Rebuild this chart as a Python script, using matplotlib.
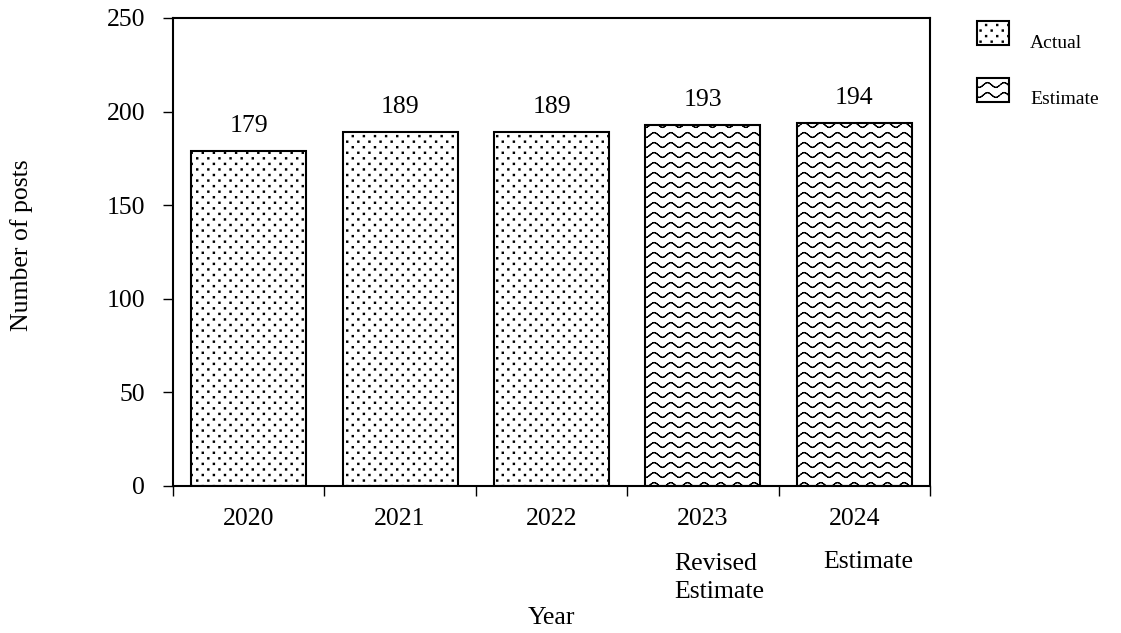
import warnings
warnings.filterwarnings("ignore")
import numpy as np
import matplotlib
matplotlib.use("Agg")
import matplotlib.pyplot as plt
import matplotlib.hatch as mhatch
from matplotlib.path import Path
from matplotlib.patches import Rectangle
from matplotlib.transforms import blended_transform_factory

# ---- data ----
years = ["2020", "2021", "2022", "2023", "2024"]
posts = [179, 189, 189, 193, 194]
kinds = ["Actual", "Actual", "Actual", "Estimate", "Estimate"]
sub_labels = ["", "", "", "Revised\nEstimate", "Estimate"]
y_ticks = [0, 50, 100, 150, 200, 250]
legend_labels = ["Actual", "Estimate"]


# ---- custom wave hatch (mapped to '*') ----
class WaveHatch(mhatch.HatchPatternBase):
    def __init__(self, hatch, density):
        n = hatch.count('*')
        self.num_lines = 10 if n else 0
        self.nper = 6
        self.seg = 12
        self.num_vertices = self.num_lines * self.nper * self.seg * 2

    def set_vertices_and_codes(self, vertices, codes):
        if self.num_lines == 0:
            return
        npts = self.nper * self.seg
        xs = np.linspace(0, 1, npts + 1)
        amp = 0.024
        k = 0
        for i in range(self.num_lines):
            y0 = (i + 0.5) / self.num_lines
            ys = y0 + amp * np.sin(2 * np.pi * self.nper * xs)
            for j in range(npts):
                vertices[k] = (xs[j], ys[j])
                vertices[k + 1] = (xs[j + 1], ys[j + 1])
                codes[k] = Path.MOVETO
                codes[k + 1] = Path.LINETO
                k += 2


# ---- custom staggered dot hatch (mapped to '.') ----
class DotHatch(mhatch.HatchPatternBase):
    def __init__(self, hatch, density):
        n = hatch.count('.')
        self.rows = 18 if n else 0
        self.cols = 9
        self.num_vertices = self.rows * self.cols * 5

    def set_vertices_and_codes(self, vertices, codes):
        if self.rows == 0:
            return
        r = 0.0062
        k = 0
        for i in range(self.rows):
            yc = (i + 0.5) / self.rows
            for j in range(self.cols):
                xc = (j + 0.25 + 0.5 * (i % 2)) / self.cols
                pts = [(xc - r, yc - r), (xc + r, yc - r), (xc + r, yc + r),
                       (xc - r, yc + r), (xc - r, yc - r)]
                for p in pts:
                    vertices[k] = p
                    k += 1
                codes[k - 5:k] = [Path.MOVETO, Path.LINETO, Path.LINETO,
                                  Path.LINETO, Path.CLOSEPOLY]


mhatch._hatch_types = [t for t in mhatch._hatch_types
                       if t.__name__ not in ("Stars", "SmallFilledCircles")] + [WaveHatch, DotHatch]

plt.rcParams['font.family'] = ['Liberation Serif', 'DejaVu Serif']
plt.rcParams['hatch.linewidth'] = 0.85

hatch_map = {"Actual": ".", "Estimate": "*"}

W, H = 1121, 633
fig = plt.figure(figsize=(W / 100, H / 100), dpi=100)
ax = fig.add_axes([173 / W, 1 - 486 / H, (930 - 173) / W, (486 - 18) / H])

x = np.arange(len(years))
for xi, v, k in zip(x, posts, kinds):
    ax.bar(xi, v, width=0.76, color="white", edgecolor="black",
           linewidth=1.5, hatch=hatch_map[k], zorder=2)
    ax.annotate(str(v), (xi, v), xytext=(0, 10), textcoords="offset points",
                ha="center", va="bottom", fontsize=18.5)

ax.set_xlim(-0.5, len(years) - 0.5)
ax.set_ylim(0, 250)
ax.set_yticks(y_ticks)
ax.set_yticklabels([str(t) for t in y_ticks], fontsize=18.5)
ax.tick_params(axis="y", direction="out", length=7, width=1, pad=13)

ax.set_xticks(np.arange(len(years) + 1) - 0.5)
ax.set_xticklabels([])
ax.set_xticks(x, minor=True)
ax.set_xticklabels(years, minor=True, fontsize=18.5)
ax.tick_params(axis="x", which="major", direction="out", length=7, width=1)
ax.tick_params(axis="x", which="minor", length=0, pad=16)

for s in ax.spines.values():
    s.set_linewidth(1.5)

trans = blended_transform_factory(ax.transData, ax.transAxes)
offsets = [0, 0, 0, 0.11, 0.09]
ys_sub = [0, 0, 0, -0.1966, -0.162]
for xi, lab, dx, yy in zip(x, sub_labels, offsets, ys_sub):
    if lab:
        ax.text(xi + dx, yy, lab, transform=trans, ha="center", va="center",
                multialignment="left", fontsize=18.5, linespacing=1.3)

fig.text(551 / W, 1 - 618 / H, "Year", ha="center", va="center", fontsize=18.5)
fig.text(22 / W, 1 - 245 / H, "Number of posts", ha="center", va="center",
         rotation=90, fontsize=18.5)

# ---- legend (drawn manually to match placement) ----
leg_boxes = [(977, 21), (977, 78)]
leg_text_y = [43, 100]
for (bx, by), ty, lab in zip(leg_boxes, leg_text_y, legend_labels):
    fig.add_artist(Rectangle((bx / W, 1 - (by + 24) / H), 32 / W, 24 / H,
                             transform=fig.transFigure, facecolor="white",
                             edgecolor="black", linewidth=1.5,
                             hatch=hatch_map[lab]))
    fig.text(1030 / W, 1 - ty / H, lab, ha="left", va="center", fontsize=14)

fig.savefig("out.png", dpi=100)
